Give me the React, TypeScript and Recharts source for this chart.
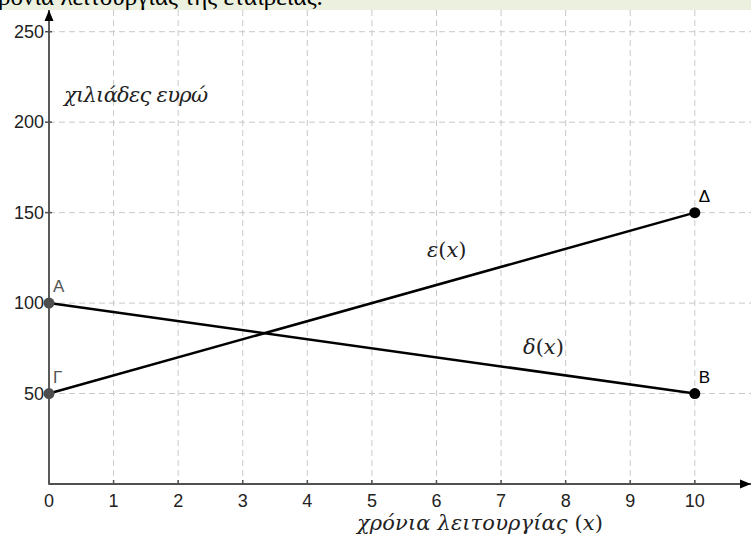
import React from 'react';
import { LineChart, Line, XAxis, YAxis, CartesianGrid, ReferenceDot } from 'recharts';

// years of operation (x) and the two cost functions, in thousands of euro
const years = [0, 10];
const epsilonValues = [50, 150];
const deltaValues = [100, 50];
const epsilonPointNames = ['Γ', 'Δ'];
const deltaPointNames = ['A', 'B'];
const xTicks = [0, 1, 2, 3, 4, 5, 6, 7, 8, 9, 10];
const yTicks = [50, 100, 150, 200, 250];

const X_MAX = 10.87;
const Y_MAX = 262;

const epsilonData = years.map((x, i) => ({ x, y: epsilonValues[i], name: epsilonPointNames[i] }));
const deltaData = years.map((x, i) => ({ x, y: deltaValues[i], name: deltaPointNames[i] }));

const GRAY_POINTS = ['A', 'Γ'];
const SANS = '"Liberation Sans", Arial, sans-serif';
const SERIF = '"DejaVu Serif", serif';

const PointDot = (props: any) => {
    const { cx, cy, payload } = props;
    const gray = GRAY_POINTS.includes(payload.name);
    const color = gray ? '#4d4d4d' : '#000';
    return (
        <g key={payload.name}>
            <circle cx={cx} cy={cy} r={5.5} fill={color} />
            <text x={cx + 4} y={cy - 11} fontSize={17} fontFamily={SANS} fill={gray ? '#555' : '#000'}>
                {payload.name}
            </text>
        </g>
    );
};

const XTick = (props: any) => {
    const { x, y, payload } = props;
    return (
        <g>
            <line x1={x} x2={x} y1={y - 12} y2={y - 7} stroke="#505050" strokeWidth={1.5} />
            <text x={x} y={y + 15} textAnchor="middle" fontSize={18} fontFamily={SANS} fill="#222">
                {payload.value}
            </text>
        </g>
    );
};

const YTick = (props: any) => {
    const { x, y, payload } = props;
    return (
        <g>
            <line x1={x + 4} x2={x + 11} y1={y} y2={y} stroke="#505050" strokeWidth={1.5} />
            <text x={x + 3} y={y + 6} textAnchor="end" fontSize={18} fontFamily={SANS} fill="#222">
                {payload.value}
            </text>
        </g>
    );
};

const UpArrow = (props: any) => {
    const { cx, cy } = props;
    return <path d={`M${cx},${cy} L${cx - 4.5},${cy + 11} L${cx + 4.5},${cy + 11} Z`} fill="#000" />;
};

const RightArrow = (props: any) => {
    const { cx, cy } = props;
    return <path d={`M${cx},${cy} L${cx - 11},${cy - 4.5} L${cx - 11},${cy + 4.5} Z`} fill="#000" />;
};

const App = () => {
    return (
        <div style={{ position: 'absolute', left: 0, top: 0, width: 751, height: 541, background: '#fff', overflow: 'hidden' }}>
            <LineChart
                width={751}
                height={541}
                margin={{ top: 10, right: 0, bottom: 0, left: 0 }}
            >
                <CartesianGrid
                    stroke="#c8c8c8"
                    strokeDasharray="6 4"
                    horizontalValues={yTicks}
                    verticalValues={xTicks.filter((t) => t > 0)}
                />
                <XAxis
                    type="number"
                    dataKey="x"
                    domain={[0, X_MAX]}
                    ticks={xTicks}
                    height={57}
                    stroke="#505050"
                    strokeWidth={2}
                    tickLine={false}
                    tick={<XTick />}
                />
                <YAxis
                    type="number"
                    dataKey="y"
                    domain={[0, Y_MAX]}
                    ticks={yTicks}
                    width={49}
                    stroke="#5a5a5a"
                    strokeWidth={2}
                    tickLine={false}
                    tick={<YTick />}
                />
                <Line
                    data={deltaData}
                    dataKey="y"
                    stroke="#000"
                    strokeWidth={2.5}
                    dot={<PointDot />}
                    activeDot={false}
                    isAnimationActive={false}
                />
                <Line
                    data={epsilonData}
                    dataKey="y"
                    stroke="#000"
                    strokeWidth={2.5}
                    dot={<PointDot />}
                    activeDot={false}
                    isAnimationActive={false}
                />
                <ReferenceDot x={0} y={Y_MAX} ifOverflow="visible" shape={<UpArrow />} />
                <ReferenceDot x={X_MAX} y={0} ifOverflow="visible" shape={<RightArrow />} />
            </LineChart>

            {/* annotations */}
            <svg width={751} height={541} style={{ position: 'absolute', left: 0, top: 0, pointerEvents: 'none' }}>
                <text x={64} y={102} fontSize={21} fontFamily={SERIF} fontStyle="italic" fill="#222" textLength={144}>
                    χιλιάδες ευρώ
                </text>
                <text x={427} y={257} fontSize={21} fontFamily={SERIF} fill="#222">
                    <tspan fontStyle="italic">ε</tspan>(<tspan fontStyle="italic">x</tspan>)
                </text>
                <text x={523} y={354} fontSize={21} fontFamily={SERIF} fill="#222">
                    <tspan fontStyle="italic">δ</tspan>(<tspan fontStyle="italic">x</tspan>)
                </text>
                <text x={357} y={530} fontSize={21} fontFamily={SERIF} fill="#222" textLength={246}>
                    <tspan fontStyle="italic">χρόνια λειτουργίας </tspan>(<tspan fontStyle="italic">x</tspan>)
                </text>
            </svg>

            {/* cut-off line of the surrounding document */}
            <div style={{ position: 'absolute', left: 0, top: 0, width: 751, height: 10, background: '#ebf1de', overflow: 'hidden' }}>
                <span style={{ position: 'absolute', left: -13, top: -17, fontSize: 25, fontFamily: '"Liberation Serif", serif', color: '#000', whiteSpace: 'nowrap' }}>
                    χρόνια λειτουργίας της εταιρείας.
                </span>
            </div>
        </div>
    );
};

export default App;
